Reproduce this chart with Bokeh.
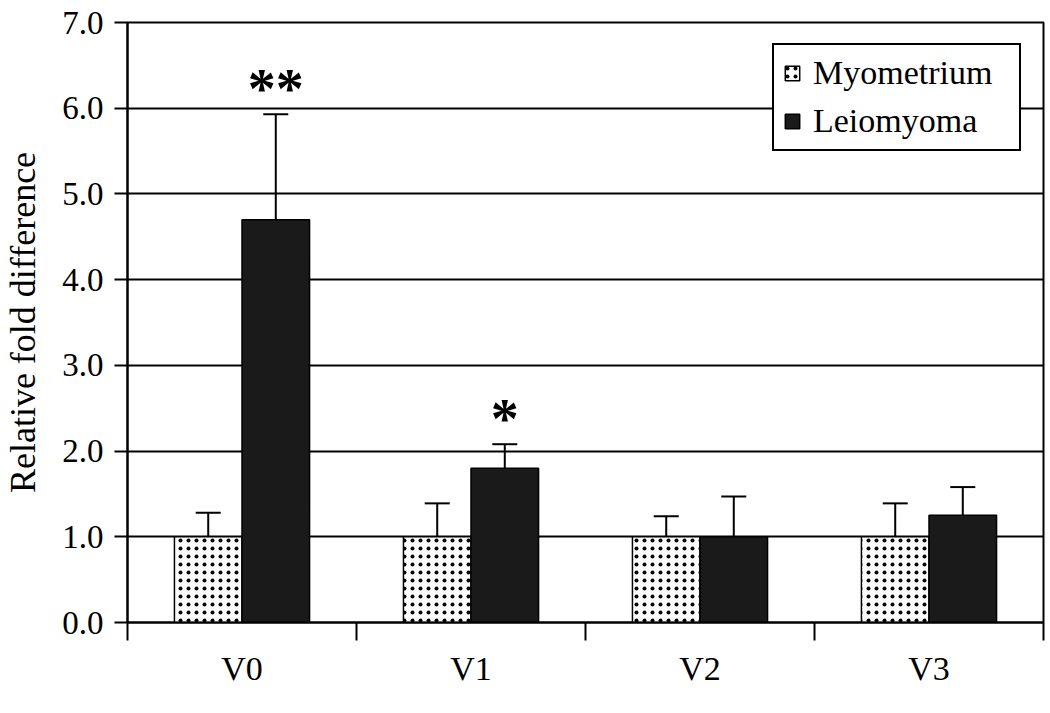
from bokeh.plotting import figure
from bokeh.models import (Range1d, FixedTicker, Legend, LegendItem, Whisker, TeeHead,
                          ColumnDataSource, LinearAxis)
from bokeh.core.properties import value
from bokeh.embed import file_html
from bokeh.resources import INLINE

# ---- data ----
categories = ["V0", "V1", "V2", "V3"]
myometrium = [1.0, 1.0, 1.0, 1.0]
myometrium_err_top = [1.28, 1.39, 1.24, 1.39]
leiomyoma = [4.70, 1.80, 1.00, 1.25]
leiomyoma_err_top = [5.93, 2.08, 1.47, 1.58]
significance = ["**", "*", "", ""]
y_ticks = [0, 1, 2, 3, 4, 5, 6, 7]

FONT = "Liberation Serif"
bar_w = 0.295

centers = [i + 0.5 for i in range(len(categories))]
x_myo = [c - bar_w / 2 for c in centers]
x_lei = [c + bar_w / 2 for c in centers]

src_myo = ColumnDataSource(dict(x=x_myo, top=myometrium, upper=myometrium_err_top))
src_lei = ColumnDataSource(dict(x=x_lei, top=leiomyoma, upper=leiomyoma_err_top))

p = figure(frame_width=916, frame_height=600, output_backend="svg", toolbar_location=None,
           x_range=Range1d(0, 4), y_range=Range1d(0, 7),
           min_border_left=124, min_border_top=22, min_border_right=2, min_border_bottom=70,
           x_axis_type=None)
p.background_fill_color = "white"
p.border_fill_color = "white"
p.outline_line_color = "black"
p.outline_line_width = 2

# grid
p.xgrid.visible = False
p.ygrid.ticker = FixedTicker(ticks=y_ticks)
p.ygrid.grid_line_color = "black"
p.ygrid.grid_line_width = 2

# y axis
ya = p.yaxis[0]
ya.ticker = FixedTicker(ticks=y_ticks)
ya.major_label_overrides = {t: f"{t:.1f}" for t in y_ticks}
ya.major_tick_out = 13
ya.major_tick_in = 0
ya.major_tick_line_width = 2
ya.minor_tick_out = 0
ya.minor_tick_in = 0
ya.axis_line_width = 2
ya.major_label_text_font = FONT
ya.major_label_text_font_size = "33px"
ya.major_label_text_color = "black"
ya.major_label_standoff = 11
ya.axis_label = "Relative fold difference"
ya.axis_label_text_font = FONT
ya.axis_label_text_font_size = "36px"
ya.axis_label_text_font_style = "normal"
ya.axis_label_text_color = "black"
ya.axis_label_standoff = 16

# x axis: ticks at category boundaries, labels at centers
xa = LinearAxis(ticker=FixedTicker(ticks=centers, minor_ticks=list(range(len(categories) + 1))))
xa.major_label_overrides = {c: cat for c, cat in zip(centers, categories)}
xa.major_tick_out = 0
xa.major_tick_in = 0
xa.minor_tick_out = 18
xa.minor_tick_in = 0
xa.minor_tick_line_width = 2
xa.axis_line_width = 2
xa.major_label_text_font = FONT
xa.major_label_text_font_size = "34px"
xa.major_label_text_color = "black"
xa.major_label_standoff = 9
p.add_layout(xa, "below")

# bars
r_myo = p.vbar(x="x", top="top", bottom=0, width=bar_w, source=src_myo,
               fill_color="white", line_color="black", line_width=1.5,
               hatch_pattern="dot", hatch_color="black", hatch_scale=8, hatch_weight=1)
r_lei = p.vbar(x="x", top="top", bottom=0, width=bar_w, source=src_lei,
               fill_color="#1a1a1a", line_color="black", line_width=1.5)

# error bars (upper only)
for s in (src_myo, src_lei):
    w = Whisker(base="x", lower="top", upper="upper", source=s, dimension="height",
                line_color="black", line_width=2,
                lower_head=None, upper_head=TeeHead(size=25, line_color="black", line_width=2))
    p.add_layout(w)

# significance marks
sig_off = 0.30
sig_x = [x for x, s in zip(x_lei, significance) if s]
sig_y = [u + sig_off for u, s in zip(leiomyoma_err_top, significance) if s]
sig_t = [s for s in significance if s]
p.text(x=sig_x, y=sig_y, text=sig_t, text_font=value(FONT), text_font_style="bold",
       text_font_size="56px", text_align="center", text_baseline="middle", text_color="black")

# legend
legend = Legend(items=[LegendItem(label="Myometrium", renderers=[r_myo]),
                       LegendItem(label="Leiomyoma", renderers=[r_lei])],
                location=(645, 471))
legend.border_line_color = "black"
legend.border_line_width = 2
legend.border_line_alpha = 1
legend.background_fill_color = "white"
legend.background_fill_alpha = 1
legend.label_text_font = FONT
legend.label_text_font_size = "34px"
legend.label_text_color = "black"
legend.glyph_width = 18
legend.glyph_height = 18
legend.label_standoff = 12
legend.label_width = 197
legend.label_height = 34
legend.spacing = 10
legend.padding = 9
legend.margin = 0
p.add_layout(legend, "center")

open("out.html", "w").write(file_html(p, INLINE))
